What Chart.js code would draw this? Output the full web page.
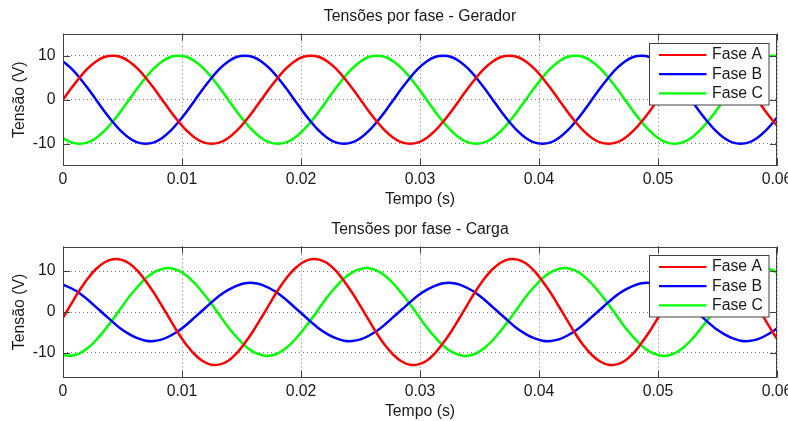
<!DOCTYPE html>
<html>
<head>
<meta charset="utf-8">
<script src="https://cdn.jsdelivr.net/npm/chart.js@4.4.1/dist/chart.umd.min.js"></script>
<style>
  html, body { margin: 0; padding: 0; background: #fff; }
  #wrap { position: relative; width: 788px; height: 421px; overflow: hidden; background: #fff; }
  canvas { position: absolute; left: 0; }
  #top { top: 0; }
  #bot { top: 210px; }
</style>
</head>
<body>
<div id="wrap">
  <canvas id="top" width="788" height="210"></canvas>
  <canvas id="bot" width="788" height="211"></canvas>
</div>
<script>
// ── Dados (passo de 1/1440 s) ─────────────────────────────────────────────────
const TIME = [
  0, 0.000694, 0.001389, 0.002083, 0.002778, 0.003472, 0.004167, 0.004861, 0.005556, 0.00625, 0.006944, 0.007639,
  0.008333, 0.009028, 0.009722, 0.010417, 0.011111, 0.011806, 0.0125, 0.013194, 0.013889, 0.014583, 0.015278, 0.015972,
  0.016667, 0.017361, 0.018056, 0.01875, 0.019444, 0.020139, 0.020833, 0.021528, 0.022222, 0.022917, 0.023611, 0.024306,
  0.025, 0.025694, 0.026389, 0.027083, 0.027778, 0.028472, 0.029167, 0.029861, 0.030556, 0.03125, 0.031944, 0.032639,
  0.033333, 0.034028, 0.034722, 0.035417, 0.036111, 0.036806, 0.0375, 0.038194, 0.038889, 0.039583, 0.040278, 0.040972,
  0.041667, 0.042361, 0.043056, 0.04375, 0.044444, 0.045139, 0.045833, 0.046528, 0.047222, 0.047917, 0.048611, 0.049306,
  0.05, 0.050694, 0.051389, 0.052083, 0.052778, 0.053472, 0.054167, 0.054861, 0.055556, 0.05625, 0.056944, 0.057639,
  0.058333, 0.059028, 0.059722, 0.060417
];

// Gerador
const GER_A = [
  0, 2.6, 5, 7.1, 8.7, 9.7, 10, 9.7, 8.7, 7.1, 5, 2.6, 0, -2.6, -5, -7.1, -8.7, -9.7, -10, -9.7, -8.7, -7.1, -5, -2.6,
  0, 2.6, 5, 7.1, 8.7, 9.7, 10, 9.7, 8.7, 7.1, 5, 2.6, 0, -2.6, -5, -7.1, -8.7, -9.7, -10, -9.7, -8.7, -7.1, -5, -2.6,
  0, 2.6, 5, 7.1, 8.7, 9.7, 10, 9.7, 8.7, 7.1, 5, 2.6, 0, -2.6, -5, -7.1, -8.7, -9.7, -10, -9.7, -8.7, -7.1, -5, -2.6,
  0, 2.6, 5, 7.1, 8.7, 9.7, 10, 9.7, 8.7, 7.1, 5, 2.6, 0, -2.6, -5, -7.1
];
const GER_B = [
  8.7, 7.1, 5, 2.6, 0, -2.6, -5, -7.1, -8.7, -9.7, -10, -9.7, -8.7, -7.1, -5, -2.6,
  0, 2.6, 5, 7.1, 8.7, 9.7, 10, 9.7, 8.7, 7.1, 5, 2.6, 0, -2.6, -5, -7.1, -8.7, -9.7, -10, -9.7, -8.7, -7.1, -5, -2.6,
  0, 2.6, 5, 7.1, 8.7, 9.7, 10, 9.7, 8.7, 7.1, 5, 2.6, 0, -2.6, -5, -7.1, -8.7, -9.7, -10, -9.7, -8.7, -7.1, -5, -2.6,
  0, 2.6, 5, 7.1, 8.7, 9.7, 10, 9.7, 8.7, 7.1, 5, 2.6, 0, -2.6, -5, -7.1, -8.7, -9.7, -10, -9.7, -8.7, -7.1, -5, -2.6
];
const GER_C = [
  -8.7, -9.7, -10, -9.7, -8.7, -7.1, -5, -2.6,
  0, 2.6, 5, 7.1, 8.7, 9.7, 10, 9.7, 8.7, 7.1, 5, 2.6, 0, -2.6, -5, -7.1, -8.7, -9.7, -10, -9.7, -8.7, -7.1, -5, -2.6,
  0, 2.6, 5, 7.1, 8.7, 9.7, 10, 9.7, 8.7, 7.1, 5, 2.6, 0, -2.6, -5, -7.1, -8.7, -9.7, -10, -9.7, -8.7, -7.1, -5, -2.6,
  0, 2.6, 5, 7.1, 8.7, 9.7, 10, 9.7, 8.7, 7.1, 5, 2.6, 0, -2.6, -5, -7.1, -8.7, -9.7, -10, -9.7, -8.7, -7.1, -5, -2.6,
  0, 2.6, 5, 7.1, 8.7, 9.7, 10, 9.7
];

// Carga
const CAR_A = [
  -1.4, 2.0, 5.3, 8.2, 10.5, 12.1, 12.9, 12.8, 11.9, 10.1, 7.6, 4.7, 1.4, -2.0, -5.3, -8.2, -10.5, -12.1, -12.9, -12.8, -11.9, -10.1, -7.6, -4.7,
  -1.4, 2.0, 5.3, 8.2, 10.5, 12.1, 12.9, 12.8, 11.9, 10.1, 7.6, 4.7, 1.4, -2.0, -5.3, -8.2, -10.5, -12.1, -12.9, -12.8, -11.9, -10.1, -7.6, -4.7,
  -1.4, 2.0, 5.3, 8.2, 10.5, 12.1, 12.9, 12.8, 11.9, 10.1, 7.6, 4.7, 1.4, -2.0, -5.3, -8.2, -10.5, -12.1, -12.9, -12.8, -11.9, -10.1, -7.6, -4.7,
  -1.4, 2.0, 5.3, 8.2, 10.5, 12.1, 12.9, 12.8, 11.9, 10.1, 7.6, 4.7, 1.4, -2.0, -5.3, -8.2
];
const CAR_B = [
  6.7, 5.8, 4.6, 3.0, 1.2, -0.6, -2.4, -4.1, -5.4, -6.4, -7.0, -7.1, -6.7, -5.8, -4.6, -3.0, -1.2, 0.6, 2.4, 4.1, 5.4, 6.4, 7.0, 7.1,
  6.7, 5.8, 4.6, 3.0, 1.2, -0.6, -2.4, -4.1, -5.4, -6.4, -7.0, -7.1, -6.7, -5.8, -4.6, -3.0, -1.2, 0.6, 2.4, 4.1, 5.4, 6.4, 7.0, 7.1,
  6.7, 5.8, 4.6, 3.0, 1.2, -0.6, -2.4, -4.1, -5.4, -6.4, -7.0, -7.1, -6.7, -5.8, -4.6, -3.0, -1.2, 0.6, 2.4, 4.1, 5.4, 6.4, 7.0, 7.1,
  6.7, 5.8, 4.6, 3.0, 1.2, -0.6, -2.4, -4.1, -5.4, -6.4, -7.0, -7.1, -6.7, -5.8, -4.6, -3.0
];
const CAR_C = [
  -10.5, -10.7, -10.1, -8.8, -6.9, -4.5, -1.9, 0.9, 3.7, 6.1, 8.2, 9.7, 10.5, 10.7, 10.1, 8.8, 6.9, 4.5, 1.9, -0.9, -3.7, -6.1, -8.2, -9.7,
  -10.5, -10.7, -10.1, -8.8, -6.9, -4.5, -1.9, 0.9, 3.7, 6.1, 8.2, 9.7, 10.5, 10.7, 10.1, 8.8, 6.9, 4.5, 1.9, -0.9, -3.7, -6.1, -8.2, -9.7,
  -10.5, -10.7, -10.1, -8.8, -6.9, -4.5, -1.9, 0.9, 3.7, 6.1, 8.2, 9.7, 10.5, 10.7, 10.1, 8.8, 6.9, 4.5, 1.9, -0.9, -3.7, -6.1, -8.2, -9.7,
  -10.5, -10.7, -10.1, -8.8, -6.9, -4.5, -1.9, 0.9, 3.7, 6.1, 8.2, 9.7, 10.5, 10.7, 10.1, 8.8
];

const SERIES_NAMES = ['Fase A', 'Fase B', 'Fase C'];
const X_TICKS  = [0, 0.01, 0.02, 0.03, 0.04, 0.05, 0.06];
const X_LABELS = ['0', '0.01', '0.02', '0.03', '0.04', '0.05', '0.06'];
const Y_TICKS  = [-10, 0, 10];

// ── Estilo ────────────────────────────────────────────────────────────────────
const COLORS = ['#ff0000', '#0000ff', '#00ff00'];
const TEXT   = '#1a1a1a';
const FRAME  = '#404040';
const GRID   = '#7a7a7a';
const FONT   = "'Liberation Sans', Arial, sans-serif";
const FSIZE  = 15.8;
const TICK_LEN = 7;

Chart.defaults.font.family = FONT;
Chart.defaults.font.size   = FSIZE;
Chart.defaults.color       = TEXT;

// moldura, ticks internos e legenda em caixa (estilo MATLAB)
const frameLegend = {
    id: 'frameLegend',
    afterDatasetsDraw(chart, args, opts) {
        const { ctx, chartArea: a, scales: { x, y } } = chart;
        ctx.save();
        ctx.strokeStyle = FRAME;
        ctx.lineWidth = 1;
        ctx.beginPath();
        X_TICKS.forEach(v => {
            const px = Math.round(x.getPixelForValue(v)) + 0.5;
            ctx.moveTo(px, a.bottom); ctx.lineTo(px, a.bottom - TICK_LEN);
            ctx.moveTo(px, a.top);    ctx.lineTo(px, a.top + TICK_LEN);
        });
        Y_TICKS.forEach(v => {
            const py = Math.round(y.getPixelForValue(v)) + 0.5;
            ctx.moveTo(a.left, py);  ctx.lineTo(a.left + TICK_LEN, py);
            ctx.moveTo(a.right, py); ctx.lineTo(a.right - TICK_LEN, py);
        });
        ctx.stroke();
        ctx.strokeRect(Math.round(a.left) + 0.5, Math.round(a.top) + 0.5,
                       Math.round(a.right - a.left) - 1, Math.round(a.bottom - a.top) - 1);

        // legenda
        const bx = Math.round(a.right - opts.right - opts.w) + 0.5;
        const by = Math.round(a.top + opts.top) + 0.5;
        ctx.fillStyle = '#fff';
        ctx.fillRect(bx, by, opts.w, opts.h);
        ctx.strokeStyle = FRAME;
        ctx.strokeRect(bx, by, opts.w, opts.h);
        ctx.font = `${FSIZE}px ${FONT}`;
        ctx.textBaseline = 'middle';
        ctx.textAlign = 'left';
        chart.data.datasets.forEach((ds, i) => {
            const cy = by + 11.5 + 19.2 * i;
            ctx.strokeStyle = ds.borderColor;
            ctx.lineWidth = 2.2;
            ctx.beginPath();
            ctx.moveTo(bx + 9.5, cy); ctx.lineTo(bx + 57, cy);
            ctx.stroke();
            ctx.fillStyle = TEXT;
            ctx.fillText(ds.label, bx + 62.5, cy);
        });
        ctx.restore();
    }
};

function makeChart(id, title, series, yLim, cfg) {
    const ctx = document.getElementById(id).getContext('2d');
    return new Chart(ctx, {
        type: 'line',
        data: {
            datasets: series.map((vals, i) => ({
                label: SERIES_NAMES[i],
                data: TIME.map((t, k) => ({ x: t, y: vals[k] })),
                borderColor: COLORS[i],
                borderWidth: 2.5,
                pointRadius: 0,
                tension: 0.35,
                fill: false,
                clip: 0,
            })),
        },
        options: {
            responsive: false,
            animation: false,
            events: [],
            layout: { padding: { left: 0, right: 11, top: 0, bottom: 0 } },
            plugins: {
                legend: { display: false },
                tooltip: { enabled: false },
                title: {
                    display: true, text: title, fullSize: false, color: TEXT,
                    font: { size: FSIZE, weight: 'normal' },
                    padding: { top: cfg.titleTop, bottom: 7.24 },
                },
                frameLegend: { w: 119.5, h: 61.5, right: 8.5, top: cfg.legendTop },
            },
            scales: {
                x: {
                    type: 'linear', min: 0, max: 0.06,
                    afterBuildTicks: s => { s.ticks = X_TICKS.map(v => ({ value: v })); },
                    afterFit: s => { s.height = cfg.xAxisH; s.paddingLeft = 0; s.paddingRight = 0; },
                    ticks: { maxRotation: 0, autoSkip: false, padding: 4.7, color: TEXT,
                             callback: (v, i) => X_LABELS[i] },
                    grid: { color: GRID, drawTicks: false, lineWidth: 1 },
                    border: { display: false, dash: [1, 3] },
                    title: { display: true, text: 'Tempo (s)', color: TEXT,
                             padding: { top: 0, bottom: cfg.xTitleBottom } },
                },
                y: {
                    type: 'linear', min: -yLim, max: yLim,
                    afterBuildTicks: s => { s.ticks = Y_TICKS.map(v => ({ value: v })); },
                    afterFit: s => { s.width = 63; s.paddingTop = 0; s.paddingBottom = 0; },
                    ticks: { padding: 7.5, color: TEXT },
                    grid: { color: GRID, drawTicks: false, lineWidth: 1 },
                    border: { display: false, dash: [1, 3] },
                    title: { display: true, text: 'Tensão (V)', color: TEXT,
                             padding: { top: 10.5, bottom: 0 } },
                },
            },
        },
        plugins: [frameLegend],
    });
}

makeChart('top', 'Tensões por fase - Gerador', [GER_A, GER_B, GER_C], 15,
          { titleTop: 7.5, legendTop: 9, xAxisH: 44.3, xTitleBottom: 0.5 });
makeChart('bot', 'Tensões por fase - Carga', [CAR_A, CAR_B, CAR_C], 16,
          { titleTop: 10.3, legendTop: 8.5, xAxisH: 43.5, xTitleBottom: 0 });
</script>
</body>
</html>
